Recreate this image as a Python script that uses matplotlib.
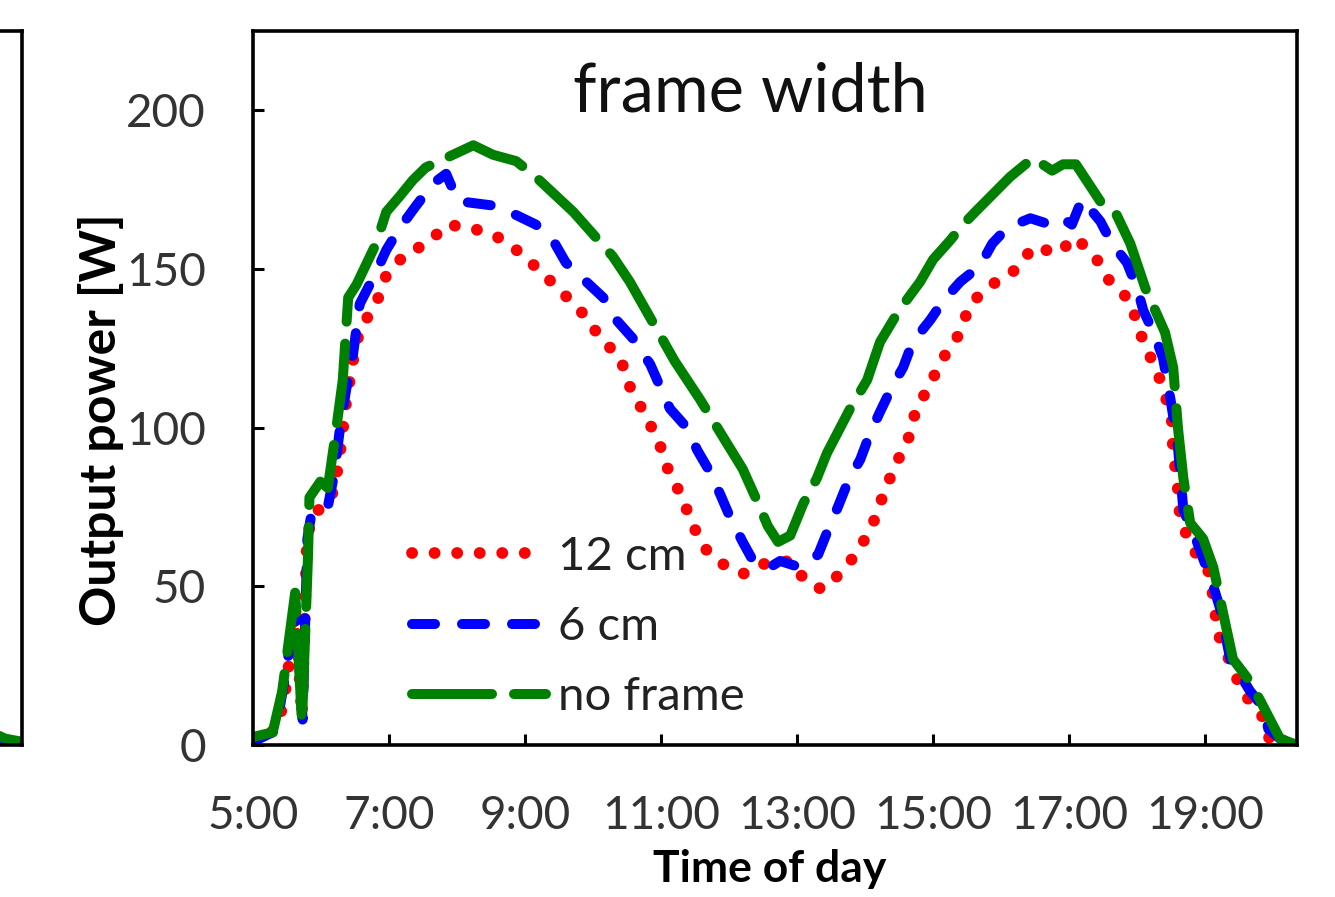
import matplotlib
matplotlib.use("Agg")
import matplotlib.pyplot as plt
from matplotlib.ticker import FuncFormatter

plt.rcParams['font.family'] = ['Lato', 'DejaVu Sans']

# -----------------------------
# Data (time in decimal hours, power in W)
# -----------------------------
t_12cm = [5.0, 5.25, 5.4, 5.5, 5.62, 5.72, 5.79, 5.85, 5.96, 6.1, 6.2, 6.28, 6.37, 6.47,
          6.57, 6.81, 6.96, 7.25, 7.57, 7.84, 8.21, 8.6, 8.94, 9.24, 9.53, 9.85, 10.12,
          10.4, 10.54, 10.74, 10.96, 11.1, 11.31, 11.47, 11.68, 11.97, 12.22, 12.5, 12.9,
          13.15, 13.38, 13.63, 13.9, 14.12, 14.27, 14.44, 14.63, 14.74, 14.96, 15.15, 15.4,
          15.54, 15.86, 16.23, 16.47, 16.84, 17.09, 17.38, 17.6, 17.9, 18.04, 18.22, 18.38,
          18.51, 18.53, 18.59, 18.63, 18.78, 19.07, 19.19, 19.37, 19.54, 19.84, 19.96, 20.35]
p_12cm = [1, 3, 9, 20, 44, 9, 62, 72, 74, 76, 81, 92, 108, 121,
          131, 139, 148, 155, 158, 164, 163, 160, 155, 149, 143, 136, 128,
          122, 113, 105, 96, 87, 78, 69, 61, 56, 54, 57, 58,
          51, 49, 54, 61, 70, 79, 88, 96, 105, 114, 122, 130,
          139, 145, 150, 157, 155, 160, 154, 146, 140, 130, 121, 113,
          102, 92, 83, 72, 63, 54, 35, 26, 17, 9, 1, 0]

t_6cm = [5.0, 5.29, 5.38, 5.5, 5.62, 5.73, 5.8, 5.86, 5.99, 6.1, 6.2, 6.28, 6.37, 6.47,
         6.57, 6.81, 6.96, 7.16, 7.4, 7.65, 7.84, 7.94, 8.04, 8.16, 8.53, 8.87, 9.16,
         9.44, 9.6, 9.9, 10.15, 10.34, 10.59, 10.84, 11.13, 11.38, 11.53, 11.72, 11.87,
         12.01, 12.2, 12.38, 12.6, 12.75, 13.04, 13.31, 13.46, 13.6, 13.75, 13.93, 14.07,
         14.22, 14.4, 14.56, 14.7, 14.96, 15.15, 15.4, 15.69, 15.87, 16.09, 16.43, 16.72,
         16.9, 17.04, 17.19, 17.46, 17.63, 17.85, 18.0, 18.09, 18.24, 18.38, 18.49, 18.6,
         18.68, 18.88, 19.12, 19.22, 19.37, 19.66, 19.85, 19.93, 20.1, 20.35]
p_6cm = [1, 4, 10, 25, 45, 8, 65, 73, 75, 75, 86, 100, 112, 123,
         139, 149, 156, 163, 170, 177, 180, 175, 171, 171, 170, 167, 164,
         158, 152, 146, 141, 134, 128, 120, 106, 100, 93, 86, 79,
         72, 64, 57, 56, 58, 56, 60, 68, 75, 83, 90, 98,
         105, 113, 119, 127, 134, 140, 146, 151, 158, 163, 166, 164,
         166, 164, 172, 165, 158, 152, 144, 137, 130, 122, 109, 94,
         74, 64, 50, 43, 27, 17, 12, 5, 2, 0]

t_noframe = [5.0, 5.29, 5.43, 5.62, 5.72, 5.81, 5.83, 5.99, 6.1, 6.22, 6.32, 6.4, 6.52,
             6.81, 6.96, 7.16, 7.35, 7.54, 8.04, 8.24, 8.53, 8.87, 9.16, 9.71, 10.0,
             10.29, 10.54, 10.91, 11.2, 11.57, 11.97, 12.2, 12.41, 12.57, 12.72, 12.9,
             13.09, 13.29, 13.44, 13.78, 14.03, 14.22, 14.5, 14.81, 15.0, 15.25, 15.44,
             15.62, 16.13, 16.47, 16.75, 16.91, 17.1, 17.53, 17.7, 17.9, 18.12, 18.41,
             18.53, 18.6, 18.68, 18.78, 18.97, 19.12, 19.26, 19.41, 19.66, 19.81, 20.1, 20.35]
p_noframe = [2.5, 4, 17, 48, 7, 60, 78, 83, 81, 99, 115, 141, 145,
             158, 168, 173, 178, 182, 187, 189, 186, 184, 179, 168, 161,
             154, 146, 132, 121, 109, 95, 87, 77, 69, 64, 66,
             76, 84, 92, 106, 115, 127, 137, 146, 153, 159, 164,
             168, 179, 185, 181, 183, 183, 169, 167, 158, 144, 130,
             119, 100, 84, 70, 65, 56, 42, 27, 20, 14, 2, 0]

# tail of the neighbouring panel (only its right edge is visible)
t_prev = [19.9, 20.1, 20.35]
p_prev_12cm = [3, 1, 0]
p_prev_6cm = [2, 1, 0]
p_prev_noframe = [4, 2, 1]

labels = ["12 cm", "6 cm", "no frame"]
x_ticks = [5, 7, 9, 11, 13, 15, 17, 19]
y_ticks = [0, 50, 100, 150, 200]

RED, BLUE, GREEN = "#ff0000", "#0000ff", "#008000"


# -----------------------------
# Line styles (dot / dash / long dash)
# -----------------------------
def draw_series(ax, t1, y1, t2, y2, t3, y3):
    h1, = ax.plot(t1, y1, color=RED, lw=8.5, linestyle=(0, (0.01, 1.9)),
                  dash_capstyle='round', label=labels[0])
    h2, = ax.plot(t2, y2, color=BLUE, lw=7.2, linestyle=(0, (2.3, 2.7)),
                  dash_capstyle='round', label=labels[1])
    h3, = ax.plot(t3, y3, color=GREEN, lw=7.2, linestyle=(0, (8, 2.2)),
                  dash_capstyle='round', label=labels[2])
    return [h1, h2, h3]


fig = plt.figure(figsize=(13.35, 8.97), dpi=100)

# -----------------------------
# Neighbouring panel (cut off at the left)
# -----------------------------
ax0 = fig.add_axes([0.0165 - 0.782, 0.1695, 0.782, 0.7959])
draw_series(ax0, t_prev, p_prev_12cm, t_prev, p_prev_6cm, t_prev, p_prev_noframe)
ax0.set_xlim(5, 20.35)
ax0.set_ylim(0, 225)
ax0.set_xticks([])
ax0.set_yticks([])
for s in ax0.spines.values():
    s.set_linewidth(2.6)

# -----------------------------
# Main panel
# -----------------------------
ax = fig.add_axes([0.1895, 0.1695, 0.782, 0.7959])
handles = draw_series(ax, t_12cm, p_12cm, t_6cm, p_6cm, t_noframe, p_noframe)

ax.set_xlim(5, 20.35)
ax.set_ylim(0, 225)
ax.set_xticks(x_ticks)
ax.set_yticks(y_ticks)
ax.xaxis.set_major_formatter(FuncFormatter(lambda v, p: f"{int(v)}:00"))
ax.tick_params(axis='both', direction='in', length=8, width=2.2, labelsize=33,
               colors='black', labelcolor='#333333')
ax.tick_params(axis='y', pad=34)
ax.tick_params(axis='x', pad=36)
for s in ax.spines.values():
    s.set_linewidth(2.6)

ax.set_ylabel("Output power [W]", fontsize=36, fontweight='bold')
ax.yaxis.set_label_coords(-0.124, 0.455)
ax.set_xlabel("Time of day", fontsize=32, fontweight='bold')
ax.xaxis.set_label_coords(0.495, -0.146)

ax.text(0.476, 0.914, "frame width", transform=ax.transAxes, ha='center', va='center',
        fontsize=48, color='#111111')

ax.legend(handles=handles, loc='upper left', bbox_to_anchor=(0.152, 0.293),
          frameon=False, fontsize=34, handlelength=2.85, handletextpad=0.25,
          labelspacing=0.6, borderpad=0, borderaxespad=0, labelcolor='#222222')

plt.savefig("out.png", dpi=100)
